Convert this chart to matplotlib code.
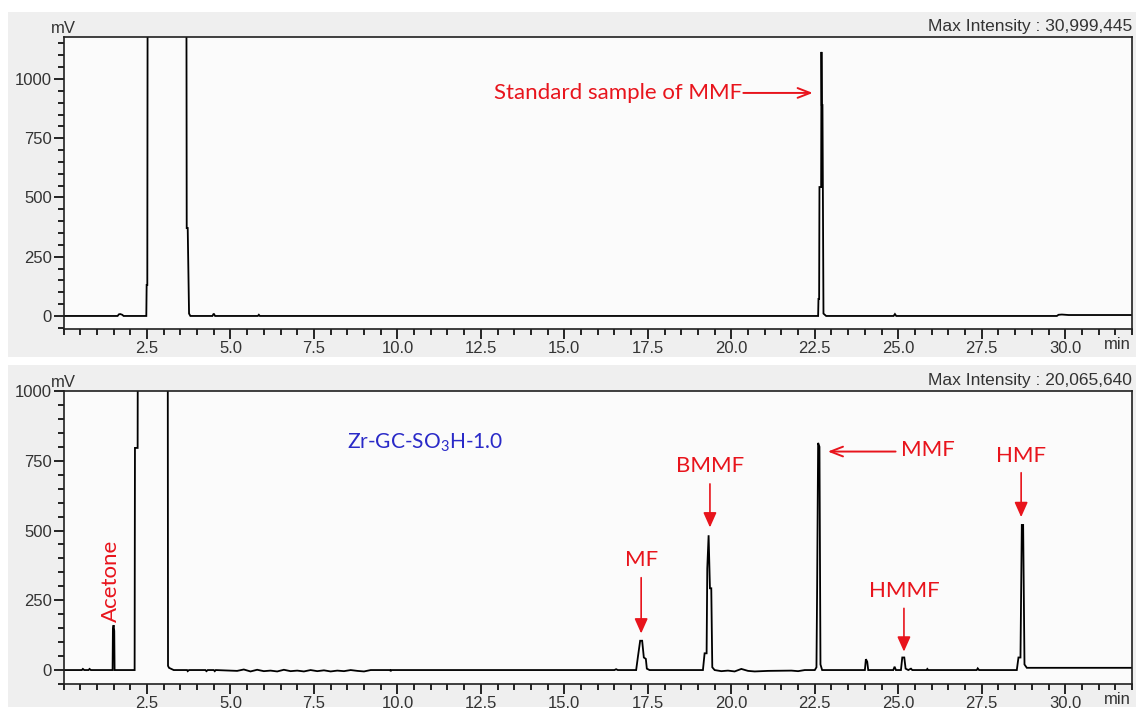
import matplotlib
matplotlib.use('Agg')
import matplotlib.pyplot as plt
from matplotlib.patches import Rectangle
from matplotlib.ticker import MultipleLocator

# standard sample of MMF (upper chromatogram), time in min, signal in mV
t_std = [0, 1.62, 1.66, 1.70, 1.76, 1.80, 2.48, 2.49, 2.51, 2.52, 3.68, 3.69,
         3.72, 3.76, 3.80, 4.46, 4.50, 4.54, 5.82, 5.85, 5.88, 22.60, 22.61,
         22.63, 22.64, 22.69, 22.70, 22.71, 22.73, 22.76, 22.80, 22.84, 24.86,
         24.90, 24.94, 29.75, 29.80, 29.90, 30.10, 32.0]
mv_std = [0, 0, 7, 8, 5, 0, 0, 131, 131, 1500, 1500, 371,
          371, 10, 0, 0, 10, 0, 0, 5, 0, 0, 72,
          72, 544, 544, 1114, 890, 890, 10, 5, 0, 0,
          8, 0, 0, 5, 6, 4, 4]

# Zr-GC-SO3H-1.0 reaction sample (lower chromatogram)
t_smp = [0, 0.55, 0.58, 0.62, 0.75, 0.78, 0.82, 1.47, 1.48, 1.50, 1.52, 1.53,
         2.13, 2.14, 2.22, 2.23, 3.12, 3.13, 3.16, 3.30, 3.70, 3.72, 3.76,
         4.25, 4.28, 4.32, 4.50, 4.53, 4.56, 5.2, 5.4, 5.6, 5.8, 6.0, 6.2, 6.4,
         6.6, 6.8, 7.0, 7.2, 7.4, 7.6, 7.8, 8.0, 8.2, 8.4, 8.6, 8.8, 9.0, 9.2,
         9.78, 9.80, 9.82, 16.50, 16.55, 16.60, 17.15, 17.20, 17.27, 17.33,
         17.38, 17.44, 17.47, 17.55, 19.15, 19.20, 19.26, 19.28, 19.32, 19.36,
         19.40, 19.43, 19.50, 19.7, 19.9, 20.1, 20.3, 20.5, 20.7, 20.9, 21.1,
         21.8, 22.0, 22.2, 22.50, 22.55, 22.57, 22.60, 22.64, 22.67, 22.72,
         24.00, 24.03, 24.07, 24.10, 24.85, 24.89, 24.93, 25.08, 25.12, 25.18,
         25.22, 25.30, 25.38, 25.42, 25.85, 25.87, 25.90, 27.35, 27.38, 27.42,
         28.55, 28.60, 28.66, 28.70, 28.74, 28.78, 28.85, 32.0]
mv_smp = [0, 0, 4, 0, 0, 4, 0, 0, 150, 161, 140, 0,
          0, 796, 796, 1500, 1500, 15, 8, 0, 0, -4, 0,
          0, -4, 0, 0, -4, 0, -3, 2, -5, 1, -4, -2, -5,
          1, -4, -2, -5, 0, -4, -1, -5, -2, -4, 0, -3, -5, 0,
          0, -4, 0, 0, 3, 0, 0, 45, 105, 105,
          45, 40, 5, 0, 0, 60, 60, 364, 483, 293,
          293, 10, 0, -4, -2, -5, 4, -3, -5, -4, -3,
          -2, -4, 0, 0, 10, 293, 814, 800, 20, 0,
          0, 39, 30, 0, 0, 12, 0, 0, 45, 45,
          5, 0, 5, 0, 0, 4, 0, 0, 6, 0,
          0, 45, 45, 520, 520, 20, 8, 8]

# labelled peaks in the lower trace (retention time, min)
peak_names = ['MF', 'BMMF', 'HMMF', 'HMF']
peak_rt = [17.30, 19.36, 25.17, 28.68]
mmf_rt = 22.61
acetone_rt = 1.43

x_ticks = [2.5, 5.0, 7.5, 10.0, 12.5, 15.0, 17.5, 20.0, 22.5, 25.0, 27.5, 30.0]
y_ticks = [0, 250, 500, 750, 1000]

plt.rcParams['font.family'] = ['Liberation Sans', 'DejaVu Sans']
plt.rcParams['mathtext.fontset'] = 'custom'
plt.rcParams['mathtext.rm'] = 'Lato'

W, H = 1136, 711
fig = plt.figure(figsize=(W / 100, H / 100), dpi=100)
fig.patch.set_facecolor('white')

# gray instrument panels
for (x0, y0, x1, y1) in [(8, 12, 1136, 357), (8, 365, 1136, 707)]:
    fig.patches.append(Rectangle((x0 / W, 1 - y1 / H), (x1 - x0) / W, (y1 - y0) / H,
                                 transform=fig.transFigure, facecolor='#efefef',
                                 edgecolor='none', zorder=-10))

ax1 = fig.add_axes([63.5 / W, 1 - 329 / H, (1132 - 63.5) / W, (329 - 37) / H])
ax2 = fig.add_axes([63.5 / W, 1 - 684 / H, (1132 - 63.5) / W, (684 - 391) / H])

red = '#e8141c'
lab_font = dict(family=['Lato', 'DejaVu Sans'], fontsize=16, color=red)
gray = '#333333'


def style_axes(ax, ylim, intensity):
    ax.set_facecolor('#fbfbfb')
    ax.set_xlim(0, 32)
    ax.set_ylim(*ylim)
    ax.set_xticks(x_ticks)
    ax.set_xticklabels(['%.1f' % v for v in x_ticks])
    ax.set_yticks(y_ticks)
    ax.xaxis.set_minor_locator(MultipleLocator(0.5))
    ax.yaxis.set_minor_locator(MultipleLocator(50))
    ax.tick_params(which='major', direction='out', length=7, width=1.2,
                   labelsize=12, labelcolor=gray, pad=1.5)
    ax.tick_params(which='minor', direction='out', length=4, width=1.2)
    for s in ax.spines.values():
        s.set_linewidth(1.2)
        s.set_color('#202020')
    ax.annotate('mV', xy=(0.0, 1.0), xycoords='axes fraction', xytext=(0, 1),
                textcoords='offset points', ha='center', va='bottom',
                fontsize=12, color=gray)
    ax.annotate('Max Intensity : ' + intensity, xy=(1.0, 1.0), xycoords='axes fraction',
                xytext=(0, 2), textcoords='offset points', ha='right', va='bottom',
                fontsize=12.5, color=gray)
    ax.annotate('min', xy=(1.0, 0.0), xycoords='axes fraction', xytext=(-1, -11.5),
                textcoords='offset points', ha='right', va='center',
                fontsize=12, color=gray)


style_axes(ax1, (-55, 1177), '30,999,445')
style_axes(ax2, (-50, 1000), '20,065,640')

ax1.plot(t_std, mv_std, color='black', lw=1.3, solid_joinstyle='miter')
ax2.plot(t_smp, mv_smp, color='black', lw=1.3, solid_joinstyle='miter')

# upper annotation
ax1.text(20.31, 941, 'Standard sample of MMF', ha='right', va='center', **lab_font)
ax1.annotate('', xy=(22.44, 941), xytext=(20.36, 941),
             arrowprops=dict(arrowstyle='->,head_length=0.9,head_width=0.35',
                             color=red, lw=1.4, shrinkA=0, shrinkB=0))

# lower annotations
ax2.text(8.49, 814, r'Zr-GC-SO$_\mathregular{3}$H-1.0', ha='left', va='center',
         family=['Lato', 'DejaVu Sans'], fontsize=15, color='#2a2ac8')
ax2.text(acetone_rt, 318, 'Acetone', rotation=90, ha='center', va='center', **lab_font)

ax2.annotate('', xy=(mmf_rt + 0.28, 783), xytext=(24.92, 783),
             arrowprops=dict(arrowstyle='->,head_length=0.9,head_width=0.35',
                             color=red, lw=1.4, shrinkA=0, shrinkB=0))
ax2.text(25.09, 790, 'MMF', ha='left', va='center', **lab_font)

label_y = [395, 732, 284, 766]
arrow_top = [331, 667, 221, 707]
arrow_tip = [131, 511, 66, 548]
for name, rt, ly, a0, a1 in zip(peak_names, peak_rt, label_y, arrow_top, arrow_tip):
    ax2.text(rt, ly, name, ha='center', va='center', **lab_font)
    ax2.annotate('', xy=(rt, a1), xytext=(rt, a0),
                 arrowprops=dict(arrowstyle='-|>,head_length=0.9,head_width=0.4',
                                 color=red, lw=1.2, shrinkA=0, shrinkB=0))

fig.savefig('out.png', dpi=100, facecolor=fig.get_facecolor())
